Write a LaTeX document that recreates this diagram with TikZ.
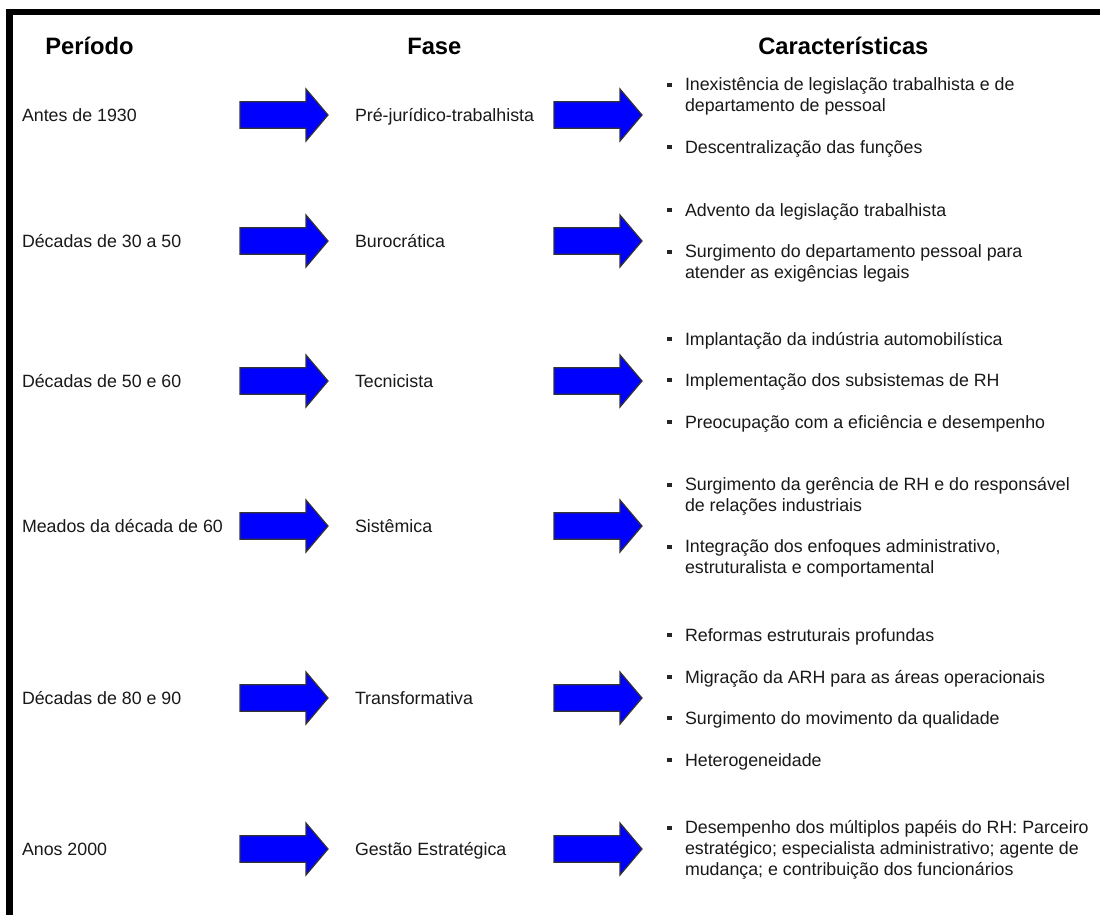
\documentclass[tikz,border=0pt]{standalone}
\usepackage{fontspec}
\setmainfont{Liberation Sans}
\begin{document}
\begin{tikzpicture}[x=0.75pt,y=-0.75pt,
  txt/.style={anchor=base west,inner sep=0pt,outer sep=0pt,align=left,
    font=\fontsize{13.35pt}{15.4pt}\selectfont,text=black!90},
  ttl/.style={anchor=base west,inner sep=0pt,font=\fontsize{17.8pt}{20pt}\selectfont\bfseries,text=black},
  bul/.style={fill=black!85,draw=none,minimum size=3.6pt,inner sep=0pt,outer sep=0pt},
  arrowshape/.style={fill=blue,draw=black!80,line width=0.9pt,line join=miter},
  bigarrow/.pic={\path[arrowshape] (0,-13.3) -- (66,-13.3) -- (66,-26) -- (88,0) -- (66,26) -- (66,13.3) -- (0,13.3) -- cycle;
    \coordinate (-tail) at (0,0); \coordinate (-tip) at (88,0);}
]
\useasboundingbox (0,0) rectangle (1100,915);
\fill[white] (0,0) rectangle (1100,915);
% border
\fill[black] (6,9) rectangle (1100,15);
\fill[black] (6,9) rectangle (13,915);
% titles
\node[ttl] (tper) at (45,54) {Período};
\node[ttl] (tfas) at (407,54) {Fase};
\node[ttl] (tcar) at (758,54) {Características};
% row 1
\node[txt] (p1) at (22,121) {Antes de 1930};
\pic (a1) at (240,115) {bigarrow};
\node[txt] (f1) at (355,121) {Pré-jurídico-trabalhista};
\pic (b1) at (554,115) {bigarrow};
\node[bul] (u11) at (669.5,85) {};
\node[txt] (c11) at (685,111.5) {Inexistência de legislação trabalhista e de\\departamento de pessoal};
\node[bul] (u12) at (669.5,147) {};
\node[txt] (c12) at (685,153) {Descentralização das funções};
% row 2
\node[txt] (p2) at (22,247) {Décadas de 30 a 50};
\pic (a2) at (240,241) {bigarrow};
\node[txt] (f2) at (355,247) {Burocrática};
\pic (b2) at (554,241) {bigarrow};
\node[bul] (u21) at (669.5,210) {};
\node[txt] (c21) at (685,216) {Advento da legislação trabalhista};
\node[bul] (u22) at (669.5,252) {};
\node[txt] (c22) at (685,278.5) {Surgimento do departamento pessoal para\\atender as exigências legais};
% row 3
\node[txt] (p3) at (22,387) {Décadas de 50 e 60};
\pic (a3) at (240,381) {bigarrow};
\node[txt] (f3) at (355,387) {Tecnicista};
\pic (b3) at (554,381) {bigarrow};
\node[bul] (u31) at (669.5,339) {};
\node[txt] (c31) at (685,345) {Implantação da indústria automobilística};
\node[bul] (u32) at (669.5,380) {};
\node[txt] (c32) at (685,386) {Implementação dos subsistemas de RH};
\node[bul] (u33) at (669.5,422) {};
\node[txt] (c33) at (685,428) {Preocupação com a eficiência e desempenho};
% row 4
\node[txt] (p4) at (22,532) {Meados da década de 60};
\pic (a4) at (240,526) {bigarrow};
\node[txt] (f4) at (355,532) {Sistêmica};
\pic (b4) at (554,526) {bigarrow};
\node[bul] (u41) at (669.5,485) {};
\node[txt] (c41) at (685,511.5) {Surgimento da gerência de RH e do responsável\\de relações industriais};
\node[bul] (u42) at (669.5,547) {};
\node[txt] (c42) at (685,573.5) {Integração dos enfoques administrativo,\\estruturalista e comportamental};
% row 5
\node[txt] (p5) at (22,704) {Décadas de 80 e 90};
\pic (a5) at (240,698) {bigarrow};
\node[txt] (f5) at (355,704) {Transformativa};
\pic (b5) at (554,698) {bigarrow};
\node[bul] (u51) at (669.5,635) {};
\node[txt] (c51) at (685,641) {Reformas estruturais profundas};
\node[bul] (u52) at (669.5,677) {};
\node[txt] (c52) at (685,683) {Migração da ARH para as áreas operacionais};
\node[bul] (u53) at (669.5,718) {};
\node[txt] (c53) at (685,724) {Surgimento do movimento da qualidade};
\node[bul] (u54) at (669.5,760) {};
\node[txt] (c54) at (685,766) {Heterogeneidade};
% row 6
\node[txt] (p6) at (22,855) {Anos 2000};
\pic (a6) at (240,849) {bigarrow};
\node[txt] (f6) at (355,855) {Gestão Estratégica};
\pic (b6) at (554,849) {bigarrow};
\node[bul] (u61) at (669.5,828) {};
\node[txt] (c61) at (685,875) {Desempenho dos múltiplos papéis do RH: Parceiro\\estratégico; especialista administrativo; agente de\\mudança; e contribuição dos funcionários};
\end{tikzpicture}
\end{document}
